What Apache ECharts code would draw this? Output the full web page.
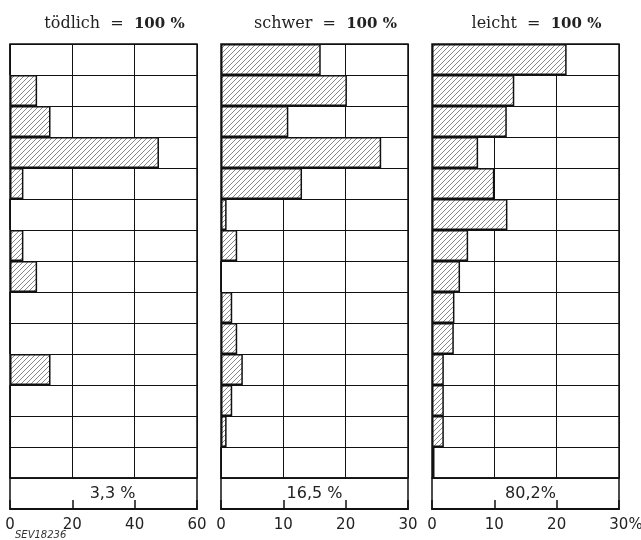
<!DOCTYPE html>
<html>
<head>
<meta charset="utf-8">
<script src="https://cdn.jsdelivr.net/npm/echarts@6/dist/echarts.min.js"></script>
<style>
html,body{margin:0;padding:0;background:#fff;}
#chart{width:641px;height:540px;}
</style>
</head>
<body>
<div id="chart"></div>
<script>
const rows = ['1','2','3','4','5','6','7','8','9','10','11','12','13','14'];
const fatalValues  = [0, 8.7, 13.0, 47.8, 4.3, 0, 4.3, 8.7, 0, 0, 13.0, 0, 0, 0];
const severeValues = [16.0, 20.2, 10.8, 25.7, 13.0, 0.9, 2.6, 0, 1.8, 2.6, 3.5, 1.8, 0.9, 0];
const lightValues  = [21.6, 13.2, 12.0, 7.4, 10.0, 12.1, 5.8, 4.5, 3.6, 3.5, 1.9, 1.9, 1.9, 0.4];
const panelNames = ['tödlich', 'schwer', 'leicht'];
const panelShares = ['3,3 %', '16,5 %', '80,2%'];
const axisMax = [60, 30, 30];
const axisStep = [20, 10, 10];
const panelValues = [fatalValues, severeValues, lightValues];

// hatch pattern
const pc = document.createElement('canvas');
pc.width = 5; pc.height = 5;
const g = pc.getContext('2d');
g.fillStyle = '#fff'; g.fillRect(0,0,5,5);
g.strokeStyle = '#555'; g.lineWidth = 0.7;
g.beginPath();
g.moveTo(0,5); g.lineTo(5,0);
g.moveTo(-1,1); g.lineTo(1,-1);
g.moveTo(4,6); g.lineTo(6,4);
g.stroke();

const lefts = [10, 221, 432];
const gWidth = 187;
const gTop = 44, rowsH = 434, boxH = 31;
const labelOffsets = [[9,0],[0,0],[5,0]];

const grid = [], xAxis = [], yAxis = [], series = [], title = [];
for (let p = 0; p < 3; p++) {
  grid.push({left: lefts[p], top: gTop, width: gWidth, height: rowsH, show: true, borderColor: '#111', borderWidth: 1.5, backgroundColor: '#fff', outerBoundsMode: 'none', containLabel: false});
  grid.push({left: lefts[p], top: gTop + rowsH, width: gWidth, height: boxH, show: true, borderColor: '#111', borderWidth: 1.5, backgroundColor: '#fff', outerBoundsMode: 'none', containLabel: false});
  xAxis.push({gridIndex: 2*p, type: 'value', min: 0, max: axisMax[p], interval: axisStep[p],
    axisLine: {show: false}, axisTick: {show: false}, axisLabel: {show: false},
    splitLine: {show: true, lineStyle: {color: '#111', width: 1}}});
  xAxis.push({gridIndex: 2*p+1, type: 'value', min: 0, max: axisMax[p], interval: axisStep[p], z: 5,
    axisLine: {show: true, onZero: false, lineStyle: {color: '#111', width: 2}},
    axisTick: {show: true, inside: true, length: 9, lineStyle: {color: '#111', width: 1.5}},
    splitLine: {show: false},
    axisLabel: {show: true, margin: 9, color: '#222', fontSize: 15, fontFamily: 'DejaVu Sans',
      formatter: (function(pi){ return function(v){ return (pi === 2 && v === axisMax[pi]) ? '{p|' + v + '%}' : String(v); }; })(p),
      rich: {p: {fontSize: 15, fontFamily: 'DejaVu Sans', color: '#222', padding: [0,0,0,14]}}}});
  yAxis.push({gridIndex: 2*p, type: 'category', data: rows, inverse: true,
    axisLine: {show: false}, axisTick: {show: false}, axisLabel: {show: false},
    splitLine: {show: true, interval: 0, lineStyle: {color: '#111', width: 1.2}}});
  yAxis.push({gridIndex: 2*p+1, type: 'category', data: ['Anteil'],
    axisLine: {show: false}, axisTick: {show: false}, axisLabel: {show: false}, splitLine: {show: false}});
  series.push({type: 'bar', xAxisIndex: 2*p, yAxisIndex: 2*p, data: panelValues[p], barWidth: '100%',
    itemStyle: {color: {image: pc, repeat: 'repeat'}, borderColor: '#111', borderWidth: 1.5}, silent: true});
  series.push({type: 'bar', xAxisIndex: 2*p+1, yAxisIndex: 2*p+1, data: [axisMax[p]], barWidth: '100%', z: 1,
    itemStyle: {color: 'rgba(0,0,0,0)', borderWidth: 0}, silent: true,
    label: {show: true, position: 'inside', offset: labelOffsets[p], formatter: panelShares[p], color: '#222', fontSize: 16, fontFamily: 'DejaVu Sans'}});
  title.push({text: '{a|' + panelNames[p] + '}{b|  =  }{c|100 %}', left: lefts[p] + gWidth/2 + 6, top: 11, textAlign: 'center',
    textStyle: {fontWeight: 'normal', rich: {
      a: {fontFamily: 'DejaVu Serif', fontSize: 16, fontWeight: 'normal', color: '#222'},
      b: {fontFamily: 'DejaVu Serif', fontSize: 16, fontWeight: 'normal', color: '#222'},
      c: {fontFamily: 'DejaVu Serif', fontSize: 15, fontWeight: 'bold', color: '#222'}}}});
}

const chart = echarts.init(document.getElementById('chart'), null, {renderer: 'canvas'});
chart.setOption({
  animation: false,
  backgroundColor: '#fff',
  title: title,
  grid: grid, xAxis: xAxis, yAxis: yAxis, series: series,
  graphic: [{type: 'text', left: 15, top: 530, style: {text: 'SEV18236', font: 'italic 10px DejaVu Sans', fill: '#333'}}]
});
</script>
</body>
</html>
